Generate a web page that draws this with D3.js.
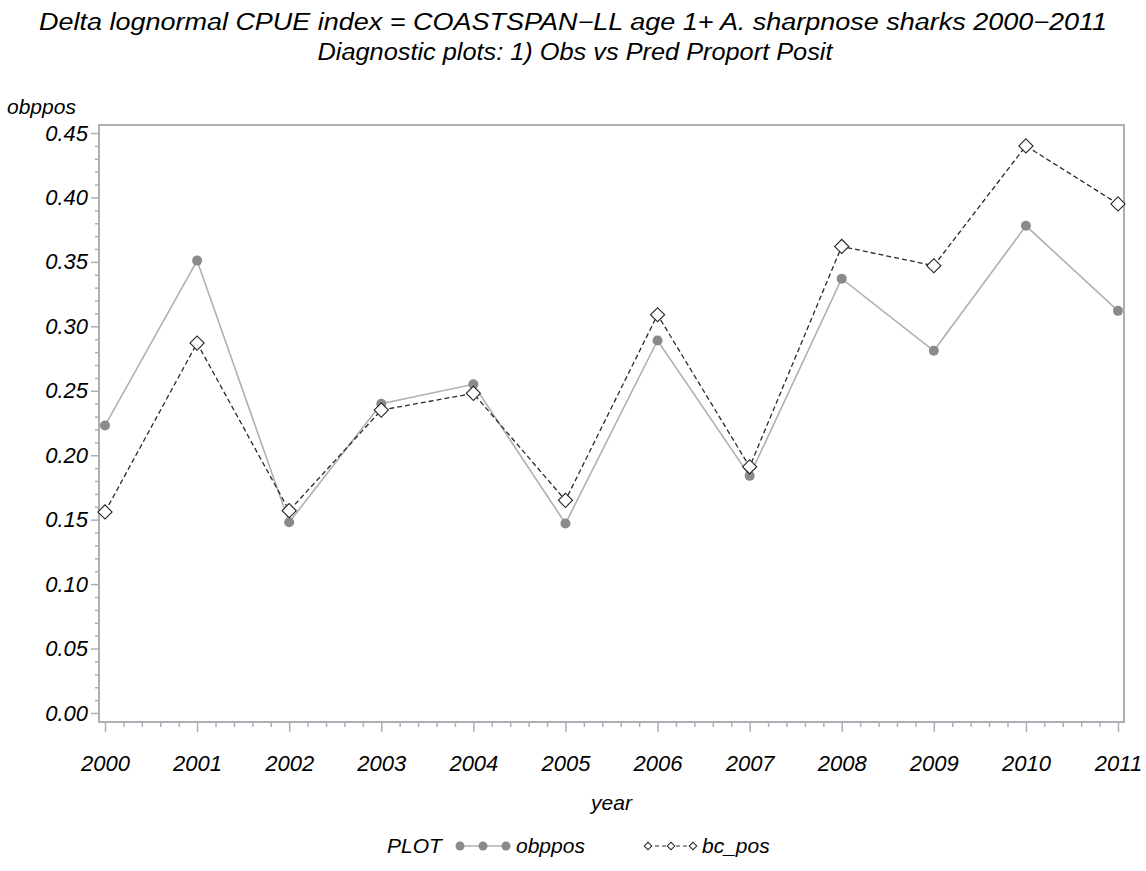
<!DOCTYPE html>
<html>
<head>
<meta charset="utf-8">
<script src="https://cdn.jsdelivr.net/npm/d3@7"></script>
<style>
  body { margin: 0; background: #fff; }
  text { font-family: "Liberation Sans", Arial, sans-serif; font-style: italic; fill: #000; }
</style>
</head>
<body>
<div id="chart"></div>
<script>
// data
const years = [2000, 2001, 2002, 2003, 2004, 2005, 2006, 2007, 2008, 2009, 2010, 2011];
const obppos = [0.223, 0.351, 0.148, 0.240, 0.255, 0.147, 0.289, 0.184, 0.337, 0.281, 0.378, 0.312];
const bcPos = [0.156, 0.287, 0.157, 0.235, 0.248, 0.165, 0.309, 0.191, 0.362, 0.347, 0.440, 0.395];
const yTicks = [0, 0.05, 0.10, 0.15, 0.20, 0.25, 0.30, 0.35, 0.40, 0.45];

const width = 1146, height = 871;
const frame = {left: 99, top: 125, right: 1124, bottom: 722};
const frameCol = '#aab0b5';

const svg = d3.select('#chart').append('svg')
  .attr('width', width)
  .attr('height', height);

const x = d3.scaleLinear().domain([2000, 2011]).range([105, 1118]);
const y = d3.scaleLinear().domain([0, 0.45]).range([713, 133]);

// titles
svg.append('text')
  .attr('x', 573).attr('y', 30)
  .attr('text-anchor', 'middle')
  .attr('font-size', 23)
  .attr('textLength', 1068).attr('lengthAdjust', 'spacingAndGlyphs')
  .text('Delta lognormal CPUE index  =  COASTSPAN\u2212LL age 1+  A. sharpnose sharks 2000\u22122011');
svg.append('text')
  .attr('x', 575).attr('y', 60)
  .attr('text-anchor', 'middle')
  .attr('font-size', 23)
  .attr('textLength', 515).attr('lengthAdjust', 'spacingAndGlyphs')
  .text('Diagnostic plots: 1) Obs vs Pred Proport Posit');

// axes: minor ticks first, then majors with labels
const xMinor = d3.range(2000, 2011.001, 0.2).filter(v => Math.abs(v - Math.round(v)) > 1e-6);
const yMinor = d3.range(0, 0.4501, 0.01).filter(v => Math.abs(v * 20 - Math.round(v * 20)) > 1e-6);

function styleAxis(g) {
  g.select('.domain').remove();
  g.selectAll('line').attr('stroke', frameCol).attr('stroke-width', 1.5);
  g.selectAll('text').attr('font-size', 22).attr('font-family', '"Liberation Sans", Arial, sans-serif')
    .attr('font-style', 'italic').attr('fill', '#000');
}

svg.append('g')
  .attr('transform', `translate(0,${frame.bottom})`)
  .call(d3.axisBottom(x).tickValues(xMinor).tickSize(5).tickFormat(''))
  .call(styleAxis);
svg.append('g')
  .attr('transform', `translate(0,${frame.bottom})`)
  .call(d3.axisBottom(x).tickValues(years).tickSize(10).tickPadding(23).tickFormat(d3.format('d')))
  .call(styleAxis);

svg.append('g')
  .attr('transform', `translate(${frame.left},0)`)
  .call(d3.axisLeft(y).tickValues(yMinor).tickSize(4).tickFormat(''))
  .call(styleAxis);
svg.append('g')
  .attr('transform', `translate(${frame.left},0)`)
  .call(d3.axisLeft(y).tickValues(yTicks).tickSize(8).tickPadding(3).tickFormat(d3.format('.2f')))
  .call(styleAxis);

// frame
svg.append('rect')
  .attr('x', frame.left).attr('y', frame.top)
  .attr('width', frame.right - frame.left)
  .attr('height', frame.bottom - frame.top)
  .attr('fill', 'none')
  .attr('stroke', frameCol)
  .attr('stroke-width', 2);

// axis labels
svg.append('text')
  .attr('x', 7).attr('y', 114)
  .attr('font-size', 21)
  .text('obppos');
svg.append('text')
  .attr('x', (frame.left + frame.right) / 2).attr('y', 810)
  .attr('text-anchor', 'middle')
  .attr('font-size', 21)
  .text('year');

// series
const obsData = years.map((yr, i) => ({yr, v: obppos[i]}));
const bcData = years.map((yr, i) => ({yr, v: bcPos[i]}));
const line = d3.line().x(d => x(d.yr)).y(d => y(d.v));

svg.append('path')
  .datum(obsData)
  .attr('d', line)
  .attr('fill', 'none')
  .attr('stroke', '#b0b0b0')
  .attr('stroke-width', 1.6);

svg.append('path')
  .datum(bcData)
  .attr('d', line)
  .attr('fill', 'none')
  .attr('stroke', '#2a2a2a')
  .attr('stroke-width', 1.3)
  .attr('stroke-dasharray', '5,3');

svg.append('g')
  .selectAll('circle')
  .data(obsData)
  .join('circle')
    .attr('cx', d => x(d.yr))
    .attr('cy', d => y(d.v))
    .attr('r', 5)
    .attr('fill', '#8a8a8a');

const diamond = d3.symbol().type(d3.symbolSquare).size(100);
svg.append('g')
  .selectAll('path')
  .data(bcData)
  .join('path')
    .attr('d', diamond)
    .attr('transform', d => `translate(${x(d.yr)},${y(d.v)}) rotate(45)`)
    .attr('fill', '#fff')
    .attr('stroke', '#222')
    .attr('stroke-width', 1.1);

// legend
const legY = 846;
svg.append('text').attr('x', 387).attr('y', legY + 7).attr('font-size', 21).text('PLOT');

const leg1 = [460, 483, 506];
svg.append('line')
  .attr('x1', leg1[0]).attr('x2', leg1[2]).attr('y1', legY).attr('y2', legY)
  .attr('stroke', '#b0b0b0').attr('stroke-width', 1.6);
svg.append('g').selectAll('circle').data(leg1).join('circle')
  .attr('cx', d => d).attr('cy', legY).attr('r', 4.5).attr('fill', '#8a8a8a');
svg.append('text').attr('x', 516).attr('y', legY + 7).attr('font-size', 21).text('obppos');

const leg2 = [648, 671, 693];
svg.append('line')
  .attr('x1', leg2[0]).attr('x2', leg2[2]).attr('y1', legY).attr('y2', legY)
  .attr('stroke', '#333').attr('stroke-width', 1).attr('stroke-dasharray', '4,3');
svg.append('g').selectAll('path').data(leg2).join('path')
  .attr('d', d3.symbol().type(d3.symbolSquare).size(28))
  .attr('transform', d => `translate(${d},${legY}) rotate(45)`)
  .attr('fill', '#fff').attr('stroke', '#222').attr('stroke-width', 1);
svg.append('text').attr('x', 702).attr('y', legY + 7).attr('font-size', 21).text('bc_pos');
</script>
</body>
</html>
